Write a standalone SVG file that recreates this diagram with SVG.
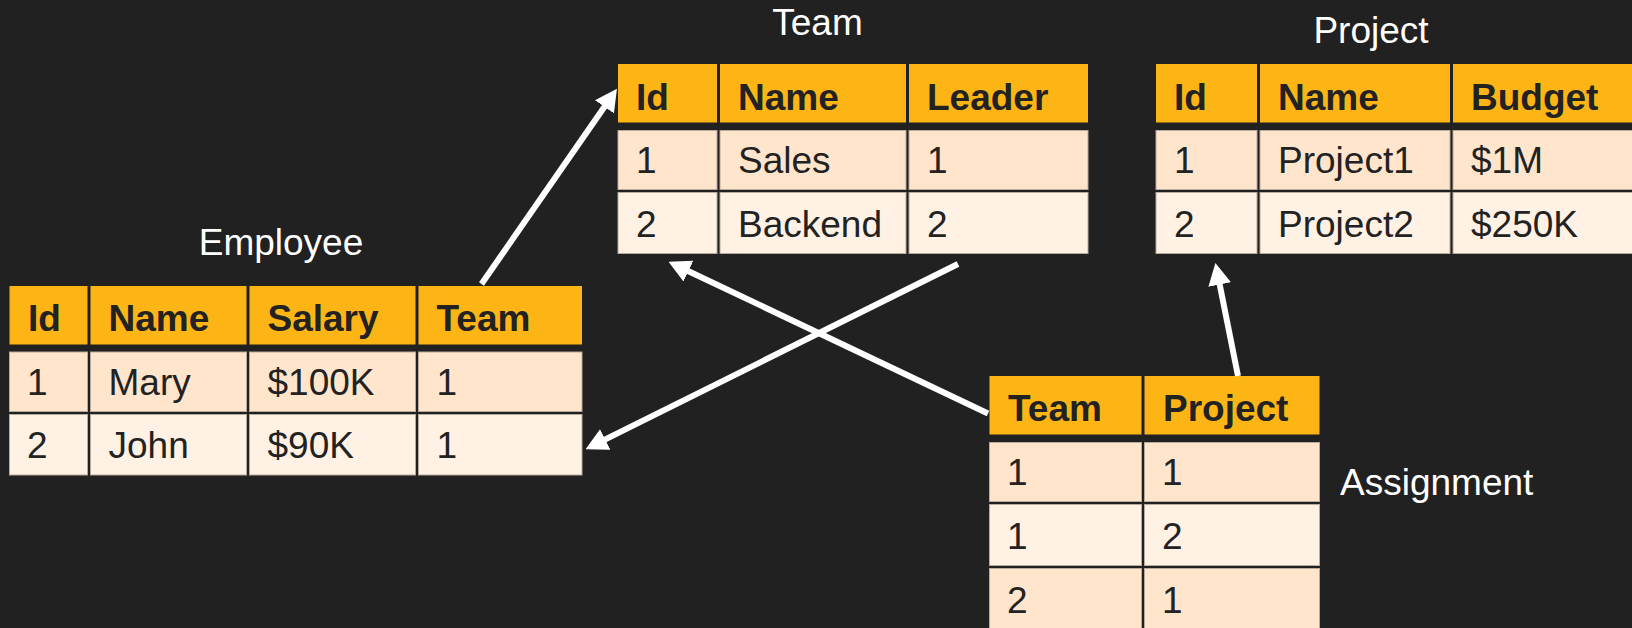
<svg xmlns="http://www.w3.org/2000/svg" width="1632" height="628" viewBox="0 0 1632 628">
  <defs>
    <style>
      .bg { fill: #212121; }
      .hd { fill: #FDB516; }
      .r1 { fill: #FFE5CC; stroke: #B9A999; stroke-width: 1; }
      .r2 { fill: #FFF1E4; stroke: #B9A999; stroke-width: 1; }
      .th { font-family: "Liberation Sans", Arial, sans-serif; font-size: 37px; font-weight: bold; fill: #222222; }
      .td { font-family: "Liberation Sans", Arial, sans-serif; font-size: 37px; fill: #222222; }
      .title { font-family: "Liberation Sans", Arial, sans-serif; font-size: 37px; fill: #FFFFFF; }
      .link { stroke: #FFFFFF; stroke-width: 6; fill: none; marker-end: url(#head); }
    </style>
    <marker id="head" markerUnits="userSpaceOnUse" viewBox="0 0 22 23" markerWidth="22" markerHeight="23" refX="1" refY="11.5" orient="auto">
      <path d="M0,0 L22,11.5 L0,23 Z" fill="#FFFFFF"/>
    </marker>
  </defs>

  <rect class="bg" x="0" y="0" width="1632" height="628"/>

  <!-- Employee table -->
  <g id="employee">
    <text class="title" x="281" y="255" text-anchor="middle">Employee</text>
    <rect class="hd" x="9.5" y="286" width="78" height="58.5"/>
    <rect class="hd" x="90.5" y="286" width="156" height="58.5"/>
    <rect class="hd" x="249.5" y="286" width="166" height="58.5"/>
    <rect class="hd" x="418.5" y="286" width="163.5" height="58.5"/>
    <text class="th" x="28" y="331">Id</text>
    <text class="th" x="108.5" y="331">Name</text>
    <text class="th" x="267.5" y="331">Salary</text>
    <text class="th" x="436.5" y="331">Team</text>

    <rect class="r1" x="9.5" y="352" width="78" height="59.5"/>
    <rect class="r1" x="90.5" y="352" width="156" height="59.5"/>
    <rect class="r1" x="249.5" y="352" width="166" height="59.5"/>
    <rect class="r1" x="418.5" y="352" width="163.5" height="59.5"/>
    <text class="td" x="27" y="395">1</text>
    <text class="td" x="108.5" y="395">Mary</text>
    <text class="td" x="267.5" y="395">$100K</text>
    <text class="td" x="436.5" y="395">1</text>

    <rect class="r2" x="9.5" y="414.5" width="78" height="60.5"/>
    <rect class="r2" x="90.5" y="414.5" width="156" height="60.5"/>
    <rect class="r2" x="249.5" y="414.5" width="166" height="60.5"/>
    <rect class="r2" x="418.5" y="414.5" width="163.5" height="60.5"/>
    <text class="td" x="27" y="458">2</text>
    <text class="td" x="108.5" y="458">John</text>
    <text class="td" x="267.5" y="458">$90K</text>
    <text class="td" x="436.5" y="458">1</text>
  </g>

  <!-- Team table -->
  <g id="team">
    <text class="title" x="817.5" y="35" text-anchor="middle">Team</text>
    <rect class="hd" x="618" y="64" width="99" height="58.5"/>
    <rect class="hd" x="720" y="64" width="186" height="58.5"/>
    <rect class="hd" x="909" y="64" width="179" height="58.5"/>
    <text class="th" x="636" y="109.5">Id</text>
    <text class="th" x="738" y="109.5">Name</text>
    <text class="th" x="927" y="109.5">Leader</text>

    <rect class="r1" x="618" y="130.5" width="99" height="59"/>
    <rect class="r1" x="720" y="130.5" width="186" height="59"/>
    <rect class="r1" x="909" y="130.5" width="179" height="59"/>
    <text class="td" x="636" y="173">1</text>
    <text class="td" x="738" y="173">Sales</text>
    <text class="td" x="927" y="173">1</text>

    <rect class="r2" x="618" y="192.5" width="99" height="61"/>
    <rect class="r2" x="720" y="192.5" width="186" height="61"/>
    <rect class="r2" x="909" y="192.5" width="179" height="61"/>
    <text class="td" x="636" y="236.5">2</text>
    <text class="td" x="738" y="236.5">Backend</text>
    <text class="td" x="927" y="236.5">2</text>
  </g>

  <!-- Project table -->
  <g id="project">
    <text class="title" x="1371" y="42.5" text-anchor="middle">Project</text>
    <rect class="hd" x="1156" y="64" width="101" height="58.5"/>
    <rect class="hd" x="1260" y="64" width="190" height="58.5"/>
    <rect class="hd" x="1453" y="64" width="190" height="58.5"/>
    <text class="th" x="1174" y="109.5">Id</text>
    <text class="th" x="1278" y="109.5">Name</text>
    <text class="th" x="1471" y="109.5">Budget</text>

    <rect class="r1" x="1156" y="130.5" width="101" height="59"/>
    <rect class="r1" x="1260" y="130.5" width="190" height="59"/>
    <rect class="r1" x="1453" y="130.5" width="190" height="59"/>
    <text class="td" x="1174" y="173">1</text>
    <text class="td" x="1278" y="173">Project1</text>
    <text class="td" x="1471" y="173">$1M</text>

    <rect class="r2" x="1156" y="192.5" width="101" height="61"/>
    <rect class="r2" x="1260" y="192.5" width="190" height="61"/>
    <rect class="r2" x="1453" y="192.5" width="190" height="61"/>
    <text class="td" x="1174" y="236.5">2</text>
    <text class="td" x="1278" y="236.5">Project2</text>
    <text class="td" x="1471" y="236.5">$250K</text>
  </g>

  <!-- Assignment table -->
  <g id="assignment">
    <text class="title" x="1340" y="495">Assignment</text>
    <rect class="hd" x="989.5" y="376" width="152" height="58.5"/>
    <rect class="hd" x="1144.5" y="376" width="175" height="58.5"/>
    <text class="th" x="1008" y="421">Team</text>
    <text class="th" x="1163" y="421">Project</text>

    <rect class="r1" x="989.5" y="442.5" width="152" height="59"/>
    <rect class="r1" x="1144.5" y="442.5" width="175" height="59"/>
    <text class="td" x="1007" y="485">1</text>
    <text class="td" x="1162" y="485">1</text>

    <rect class="r2" x="989.5" y="504.5" width="152" height="61"/>
    <rect class="r2" x="1144.5" y="504.5" width="175" height="61"/>
    <text class="td" x="1007" y="548.5">1</text>
    <text class="td" x="1162" y="548.5">2</text>

    <rect class="r1" x="989.5" y="568.5" width="152" height="62"/>
    <rect class="r1" x="1144.5" y="568.5" width="175" height="62"/>
    <text class="td" x="1007" y="612.5">2</text>
    <text class="td" x="1162" y="612.5">1</text>
  </g>

  <!-- Foreign-key links -->
  <g id="links">
    <line class="link" x1="481.5" y1="284" x2="605" y2="106"/>
    <line class="link" x1="988" y1="413.5" x2="687.5" y2="270.7"/>
    <line class="link" x1="958" y1="264" x2="604.3" y2="439.9"/>
    <line class="link" x1="1238" y1="376" x2="1219.5" y2="283.5"/>
  </g>
</svg>
